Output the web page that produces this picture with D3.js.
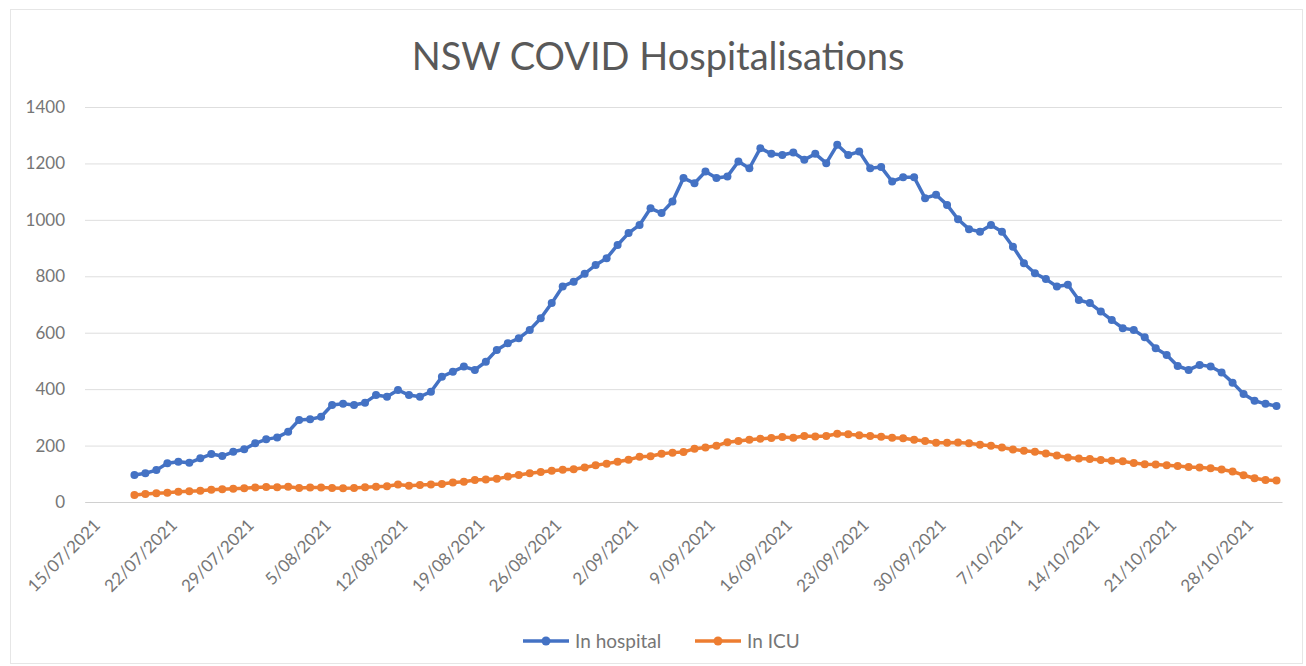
<!DOCTYPE html>
<html>
<head>
<meta charset="utf-8">
<script src="https://cdn.jsdelivr.net/npm/d3@7"></script>
<style>
  body { margin: 0; background: #fff; }
  text { font-family: Lato, "Open Sans", sans-serif; }
</style>
</head>
<body>
<div id="chart"></div>
<script>
// daily figures, 19/07/2021 -> 31/10/2021
const startDate = "2021-07-19"
const inHospital = [
  96, 102, 113, 137, 143, 139, 155, 170, 163, 178, 187, 208, 222, 229, 249,
  291, 293, 302, 344, 348, 344, 352, 379, 373, 397, 379, 373, 391, 444, 462,
  480, 468, 497, 539, 563, 580, 610, 651, 705, 764, 781, 809, 840, 864, 911,
  953, 982, 1041, 1024, 1065, 1148, 1130, 1171, 1148, 1154, 1207, 1183, 1254, 1234, 1230,
  1239, 1213, 1234, 1201, 1266, 1230, 1242, 1183, 1187, 1136, 1151, 1151, 1077, 1089, 1053,
  1002, 967, 958, 982, 958, 905, 846, 811, 790, 764, 770, 716, 705, 675, 645,
  616, 610, 584, 545, 521, 482, 468, 486, 480, 459, 423, 383, 359, 348, 340
]
const inICU = [
  25, 28, 31, 33, 36, 38, 40, 43, 45, 47, 49, 51, 53, 52, 54,
  50, 51, 51, 50, 49, 50, 52, 54, 56, 62, 58, 60, 62, 64, 69,
  72, 78, 80, 82, 90, 96, 102, 106, 111, 114, 116, 122, 130, 136, 143,
  150, 160, 162, 171, 175, 177, 189, 193, 199, 212, 216, 221, 224, 227, 230,
  228, 234, 232, 234, 242, 240, 237, 234, 231, 228, 226, 221, 216, 210, 210,
  211, 208, 203, 199, 193, 186, 182, 178, 172, 165, 158, 154, 152, 149, 146,
  144, 138, 134, 133, 130, 128, 124, 122, 120, 115, 108, 95, 84, 78, 76
]
const seriesNames = ["In hospital", "In ICU"]
const seriesColors = ["#4472C4", "#ED7D31"]
const xTickDates = [
  "2021-07-15", "2021-07-22", "2021-07-29", "2021-08-05", "2021-08-12", "2021-08-19",
  "2021-08-26", "2021-09-02", "2021-09-09", "2021-09-16", "2021-09-23", "2021-09-30",
  "2021-10-07", "2021-10-14", "2021-10-21", "2021-10-28"
]
const yTicks = [0, 200, 400, 600, 800, 1000, 1200, 1400]

const svgWidth = 1306
const svgHeight = 666
const margin = { top: 107, right: 24, bottom: 164, left: 85 }
const width = svgWidth - margin.left - margin.right
const height = svgHeight - margin.top - margin.bottom

const parse = d3.utcParse("%Y-%m-%d")
const day = 864e5
const start = parse(startDate)
const dates = inHospital.map((d, i) => new Date(+start + i * day))

let svg = d3.select("#chart")
  .append("svg")
  .attr("width", svgWidth)
  .attr("height", svgHeight)

// chart border
svg.append("rect")
  .attr("x", 10.5).attr("y", 9.5)
  .attr("width", svgWidth - 14).attr("height", svgHeight - 12)
  .attr("fill", "none")
  .attr("stroke", "#e6e6e6")

svg.append("text")
  .attr("x", 658)
  .attr("y", 70)
  .attr("text-anchor", "middle")
  .attr("font-size", "38px")
  .attr("fill", "#595959")
  .text("NSW COVID Hospitalisations")

let chartGroup = svg.append("g")
  .attr("transform", `translate(${margin.left}, ${margin.top})`)

// each day gets a slot, points sit in the middle of it
let x = d3.scaleUtc()
  .domain([new Date(+parse(xTickDates[0]) - day / 2), new Date(+dates[dates.length - 1] + day / 2)])
  .range([0, width])

let y = d3.scaleLinear()
  .domain([0, 1400])
  .range([height, 0])

// gridlines
let yAxis = chartGroup.append("g")
  .call(d3.axisLeft(y).tickValues(yTicks).tickFormat(d3.format("d")).tickSize(-width).tickPadding(20))
yAxis.select(".domain").remove()
yAxis.selectAll(".tick line")
  .attr("stroke", "#dedede")
  .attr("stroke-width", 1)
yAxis.selectAll(".tick text")
  .attr("font-size", "17px")
  .attr("fill", "#767676")
  .attr("font-family", "Lato, sans-serif")

let xAxis = chartGroup.append("g")
  .attr("transform", `translate(0, ${height})`)
  .call(d3.axisBottom(x)
    .tickValues(xTickDates.map(parse))
    .tickFormat(d3.utcFormat("%-d/%m/%Y"))
    .tickSize(0))
xAxis.select(".domain").attr("stroke", "#d0d0d0")
xAxis.selectAll(".tick text")
  .attr("font-size", "17px")
  .attr("fill", "#767676")
  .attr("font-family", "Lato, sans-serif")
  .attr("text-anchor", "end")
  .attr("dy", "0.35em")
  .attr("transform", "translate(4, 18) rotate(-45)")

const series = [inHospital, inICU]
let line = d3.line()
  .x((d, i) => x(dates[i]))
  .y(d => y(d))

series.forEach((values, s) => {
  chartGroup.append("path")
    .datum(values)
    .attr("fill", "none")
    .attr("stroke", seriesColors[s])
    .attr("stroke-width", 3.5)
    .attr("stroke-linejoin", "round")
    .attr("d", line)

  chartGroup.append("g")
    .selectAll("circle")
    .data(values)
    .enter()
    .append("circle")
    .attr("cx", (d, i) => x(dates[i]))
    .attr("cy", d => y(d))
    .attr("r", 4)
    .attr("fill", seriesColors[s])
})

// legend
let legend = svg.append("g")
  .attr("transform", "translate(523, 641)")
const legendX = [0, 172]
seriesNames.forEach((name, s) => {
  let g = legend.append("g").attr("transform", `translate(${legendX[s]}, 0)`)
  g.append("line")
    .attr("x1", 0).attr("x2", 46)
    .attr("stroke", seriesColors[s])
    .attr("stroke-width", 3.5)
  g.append("circle")
    .attr("cx", 23).attr("r", 4.5)
    .attr("fill", seriesColors[s])
  g.append("text")
    .attr("x", 52)
    .attr("dy", "0.35em")
    .attr("font-size", "19px")
    .attr("fill", "#767676")
    .text(name)
})
</script>
</body>
</html>
